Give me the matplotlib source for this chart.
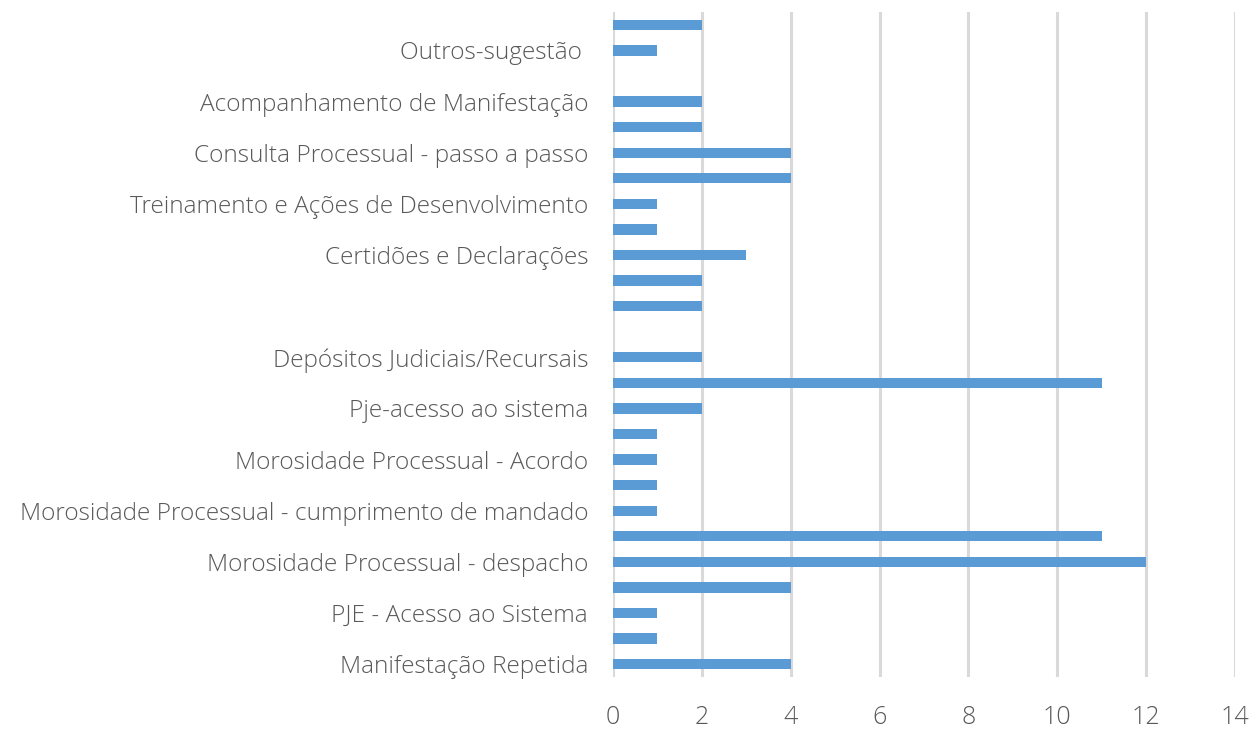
import matplotlib.pyplot as plt

# categorias de cima para baixo (rótulos vazios = ocultos no gráfico original)
categorias = [
    '', 'Outros-sugestão ', '', 'Acompanhamento de Manifestação', '',
    'Consulta Processual - passo a passo', '', 'Treinamento e Ações de Desenvolvimento', '',
    'Certidões e Declarações', '', '', '', 'Depósitos Judiciais/Recursais', '',
    'Pje-acesso ao sistema', '', 'Morosidade Processual - Acordo', '',
    'Morosidade Processual - cumprimento de mandado', '', 'Morosidade Processual - despacho', '',
    'PJE - Acesso ao Sistema', '', 'Manifestação Repetida',
]
valores = [2, 1, 0, 2, 2, 4, 4, 1, 1, 3, 2, 2, 0, 2, 11, 2, 1, 1, 1, 1, 11, 12, 4, 1, 1, 4]
xticks = [0, 2, 4, 6, 8, 10, 12, 14]

plt.rcParams['font.family'] = ['Open Sans', 'DejaVu Sans']

fig = plt.figure(figsize=(12.58, 7.38), dpi=100)
ax = fig.add_axes([0.4873, 0.0827, 0.4944, 0.901])

n = len(categorias)
pos = [n - 1 - i for i in range(n)]
ax.barh(pos, valores, height=0.4, color='#5B9BD5', zorder=3)

ax.set_xlim(0, 14)
ax.set_ylim(-0.5, n - 0.5)
ax.set_xticks(xticks)
ax.set_yticks(pos)
ax.set_yticklabels(categorias)
ax.grid(axis='x', color='#D9D9D9', linewidth=2.2, zorder=0)
for s in ax.spines.values():
    s.set_visible(False)
ax.tick_params(axis='y', length=0, pad=18, labelsize=17.6, labelcolor='#595959')
ax.tick_params(axis='x', length=0, pad=20, labelsize=18, labelcolor='#595959')
for t in ax.get_yticklabels() + ax.get_xticklabels():
    t.set_fontweight('light')

fig.savefig('out.png', dpi=100)
